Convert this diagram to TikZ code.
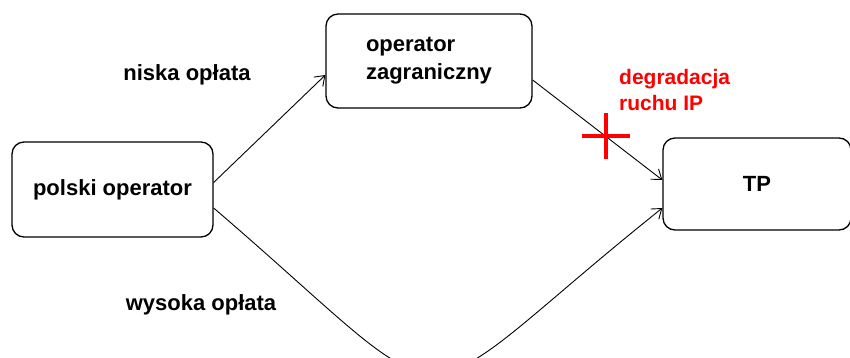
\documentclass[tikz,border=0pt]{standalone}
\usepackage{fontspec}
\setmainfont{Liberation Sans}
\usetikzlibrary{arrows.meta}
\begin{document}
\begin{tikzpicture}[x=1pt,y=-1pt,
  box/.style={draw=black,line width=1.3pt,rounded corners=12pt,inner sep=0pt,
    font=\fontsize{22}{28}\selectfont\bfseries},
  lbl/.style={font=\fontsize{22}{28}\selectfont\bfseries,inner sep=0pt},
  conn/.style={draw=black,line width=0.9pt,-{Straight Barb[length=9pt,width=13pt]}},
  redtxt/.style={text=red,font=\fontsize{21}{26}\selectfont\bfseries,inner sep=0pt,align=left}]
\clip (0,0) rectangle (850,357);
\fill[white] (0,0) rectangle (850,357);
\node[box,minimum width=201pt,minimum height=95pt] (pol) at (112.5,189.5) {polski operator};
\node[box,minimum width=206pt,minimum height=94pt,align=left] (zagr) at (429,61) {operator\\zagraniczny};
\node[box,minimum width=188pt,minimum height=92pt] (tp) at (757,184) {TP};
\node[lbl] (niska) at (187,75) {niska opłata};
\node[lbl] (wysoka) at (201,305) {wysoka opłata};
\node[redtxt,anchor=west] (degr) at (619,90) {degradacja\\ruchu IP};
\draw[conn] ([yshift=7pt]pol.east) -- ([yshift=-14pt]zagr.west);
\draw[conn] ([yshift=-19pt]zagr.east) -- ([yshift=4pt]tp.west);
\draw[conn] ([yshift=-18.5pt]pol.east) .. controls (475,432) and (392,424) .. ([yshift=-24pt]tp.west);
\coordinate (cross) at (606,136);
\draw[red,line width=4pt] ([xshift=-24pt]cross) -- ([xshift=24pt]cross);
\draw[red,line width=4pt] ([yshift=23pt]cross) -- ([yshift=-23pt]cross);
\end{tikzpicture}
\end{document}
